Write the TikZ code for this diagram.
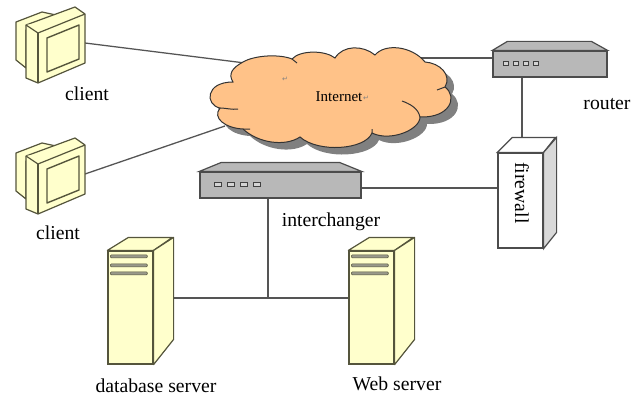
\documentclass[tikz,border=0pt]{standalone}
\usepackage{fontspec}
\setmainfont{Liberation Serif}
\newfontfamily\markfont{DejaVu Sans}

\definecolor{paleyellow}{HTML}{FFFFCC}
\definecolor{cloudorange}{HTML}{FFC288}
\definecolor{boxgray}{HTML}{B8B8B8}
\definecolor{linegray}{HTML}{555555}
\definecolor{edgeolive}{HTML}{55553C}

\def\cloudoutline{(243,62) .. controls (255,55) and (280,54) .. (292,59)
	.. controls (300,50) and (325,50) .. (335,58)
	.. controls (343,45) and (363,45) .. (375,55)
	.. controls (385,43) and (412,46) .. (425,62)
	.. controls (440,63) and (452,75) .. (445,87)
	.. controls (458,97) and (450,118) .. (420,117)
	.. controls (420,130) and (390,142) .. (372,133)
	.. controls (365,150) and (318,153) .. (300,137)
	.. controls (285,147) and (258,143) .. (243,129)
	.. controls (225,128) and (212,118) .. (220,108)
	.. controls (205,105) and (205,82) .. (233,82)
	.. controls (228,74) and (232,68) .. (243,62) -- cycle}

\tikzset{
	wire/.style={draw=linegray, line width=1.3pt},
	label/.style={font=\fontsize{19.7}{20}\selectfont, inner sep=0pt},
	boxfront/.style={draw=black!70, line width=1.2pt, inner sep=0pt},
	switchbox/.style={boxfront, fill=boxgray, minimum height=26pt},
	led/.style={draw=black!75, fill=boxgray!60, line width=1pt},
	serverfront/.style={boxfront, draw=edgeolive, fill=paleyellow, minimum width=45pt, minimum height=113pt},
	yellowface/.style={draw=edgeolive, fill=paleyellow, line width=1.2pt, line join=round},
}

\begin{document}
\begin{tikzpicture}[x=1pt, y=-1pt]
\useasboundingbox (0,0) rectangle (631,396);

% boxes
\node[switchbox, minimum width=114pt] (router) at (550,64) {};
\node[switchbox, minimum width=161pt] (interchanger) at (280.5,185) {};
\node[boxfront, fill=white, minimum width=45pt, minimum height=95pt] (firewall) at (520.5,200.5) {};
\node[serverfront] (dbserver) at (130.5,307.5) {};
\node[serverfront] (webserver) at (371.5,307.5) {};

\coordinate (client1) at (85,43);
\coordinate (client2) at (85,174);
\coordinate (cloudA) at (245,63);
\coordinate (cloudB) at (225,126);
\coordinate (cloudC) at (415,58);
\coordinate (joint) at (268,298);

% connectors
\draw[wire] (client1) -- (cloudA);
\draw[wire] (client2) -- (cloudB);
\draw[wire] (cloudC) -- (cloudC -| router.west);
\draw[wire] (router.south -| 522,0) -- (522,138);
\draw[wire] (interchanger.east |- 0,188) -- (firewall.west |- 0,188);
\draw[wire] (interchanger.south -| joint) -- (joint);
\draw[wire] (dbserver.east |- joint) -- (webserver.west |- joint);

% cloud
\fill[black!50, shift={(7,7)}] \cloudoutline;
\draw[fill=cloudorange, draw=black!80, line width=1pt] \cloudoutline;
\draw[black!80, line width=1pt] (445,87) -- (437,90)
	(420,117) .. controls (418,108) and (410,104) .. (402,101)
	(372,133) -- (372,129)
	(243,129) -- (250,129)
	(220,108) .. controls (226,108) and (232,110) .. (238,109)
	(292,59) -- (297,63);
\node[font=\fontsize{15}{15}\selectfont, inner sep=0pt] (internet) at (339,97) {Internet};
\node[font=\markfont\fontsize{7}{7}\selectfont, text=black!50, inner sep=0pt] (markA) at (366,98) {↵};
\node[font=\markfont\fontsize{7}{7}\selectfont, text=black!50, inner sep=0pt] (markB) at (285,79) {↵};

% clients
\foreach \y in {0,131} {
	\begin{scope}[yshift=-\y pt]
	\draw[yellowface] (26,68) -- (16,60) -- (16,22) -- (42,12) -- (56,15) -- (60,20) -- (26,30) -- cycle;
	\draw[yellowface] (26,25) -- (75,7) -- (85,14) -- (85,63) -- (38,83) -- (26,78) -- cycle;
	\draw[yellowface] (26,25) -- (38,33) -- (85,14);
	\draw[yellowface] (38,33) -- (38,83);
	\draw[yellowface, line width=1.4pt] (47,38) -- (79,25) -- (79,59) -- (47,72) -- cycle;
	\end{scope}
}

% router and interchanger
\draw[boxfront, fill=boxgray] (router.north west) -- ++(15,-9) -- ++(84,0) -- (router.north east) -- cycle;
\foreach \x in {503,513,523,533} {
	\draw[led] (\x,61) rectangle (\x+5,65);
}
\draw[boxfront, fill=boxgray] (interchanger.north west) -- ++(22,-9) -- ++(118,0) -- (interchanger.north east) -- cycle;
\foreach \x in {214,227,240,253} {
	\draw[led] (\x,182) rectangle (\x+7,186);
}

% firewall
\draw[boxfront, fill=white] (firewall.north west) -- ++(15,-15) -- ++(43,0) -- (firewall.north east) -- cycle;
\draw[boxfront, fill=black!15] (firewall.north east) -- ++(13,-15) -- ++(0,95) -- (firewall.south east) -- cycle;
\node[label, rotate=-90] (firewalltext) at (522,193) {firewall};

% servers
\foreach \s in {dbserver,webserver} {
	\draw[yellowface] (\s.north west) -- ++(21,-13) -- ++(44,0) -- (\s.north east) -- cycle;
	\draw[yellowface] (\s.north east) -- ++(20,-13) -- ++(0,102) -- (\s.south east) -- cycle;
	\foreach \d in {6,15,23} {
		\draw[draw=edgeolive, fill=edgeolive!60, line width=.5pt, rounded corners=1pt] ([shift={(3,\d-1.5)}]\s.north west) rectangle ([shift={(40,\d+1.5)}]\s.north west);
	}
}

% labels
\node[label] (clientA) at (87,94) {client};
\node[label] (clientB) at (58,233) {client};
\node[label] (routertext) at (607,104) {router};
\node[label] (interchangertext) at (331,222) {interchanger};
\node[label] (dbservertext) at (156,386) {database server};
\node[label] (webservertext) at (397,384) {Web server};
\end{tikzpicture}
\end{document}
